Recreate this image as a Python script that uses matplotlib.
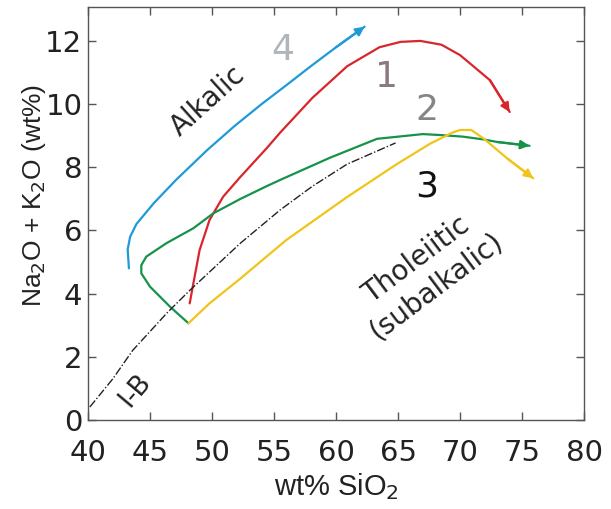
import matplotlib
matplotlib.use("Agg")
import matplotlib.pyplot as plt

# curve 4 (blue, alkalic)
x4 = [43.3, 43.2, 43.4, 43.9, 45.3, 47.1, 49.6, 51.8, 54.0, 56.0, 57.9, 60.0, 62.3]
y4 = [4.8, 5.4, 5.8, 6.2, 6.86, 7.6, 8.54, 9.3, 10.0, 10.6, 11.18, 11.8, 12.45]

# curve 1 (red)
x1 = [48.2, 48.5, 49.0, 49.8, 50.9, 52.3, 54.4, 55.5, 58.1, 60.9, 63.5, 65.2, 66.8, 68.5, 70.0, 72.4, 74.0]
y1 = [3.69, 4.33, 5.38, 6.33, 7.07, 7.7, 8.6, 9.1, 10.2, 11.2, 11.8, 11.97, 12.0, 11.88, 11.55, 10.76, 9.75]

# curve 2 (green)
x2 = [48.1, 46.6, 45.0, 44.3, 44.3, 44.7, 46.3, 48.5, 50.1, 52.3, 54.4, 55.5, 59.5, 63.3, 67.0, 68.4, 70.2, 71.9, 73.0, 75.6]
y2 = [3.06, 3.59, 4.22, 4.64, 4.9, 5.17, 5.59, 6.07, 6.54, 7.0, 7.4, 7.6, 8.3, 8.9, 9.05, 9.02, 8.97, 8.88, 8.8, 8.68]

# curve 3 (yellow)
x3 = [48.1, 49.8, 52.3, 56.0, 60.9, 64.9, 67.6, 69.4, 70.0, 70.9, 71.9, 73.8, 75.9]
y3 = [3.06, 3.69, 4.48, 5.7, 7.06, 8.1, 8.75, 9.1, 9.18, 9.18, 8.91, 8.28, 7.65]

# Irvine-Baragar divide
xib = [40.15, 42.0, 43.6, 46.4, 48.2, 52.3, 55.5, 58.1, 60.9, 64.8]
yib = [0.41, 1.3, 2.2, 3.4, 4.1, 5.6, 6.65, 7.4, 8.1, 8.77]

xticks = [40, 45, 50, 55, 60, 65, 70, 75, 80]
yticks = [0, 2, 4, 6, 8, 10, 12]

fig = plt.figure(figsize=(6.11, 5.09), dpi=100)
ax = fig.add_axes([0.144, 0.175, 0.812, 0.811])

curves = [(x4, y4, '#1f9ad8'), (x1, y1, '#d8262c'),
          (x2, y2, '#17924a'), (x3, y3, '#f0c419')]
for xs, ys, c in curves:
    ax.plot(xs, ys, color=c, lw=1.6, solid_capstyle='round', solid_joinstyle='round')
    ax.annotate('', xy=(xs[-1], ys[-1]), xytext=(xs[-2], ys[-2]),
                arrowprops=dict(arrowstyle='-|>', color=c, lw=1.6,
                                mutation_scale=13, shrinkA=0, shrinkB=0))

ax.plot(xib, yib, color='#222222', lw=1.0, linestyle=(0, (6, 1.5, 1, 1.5)))

ax.set_xlim(40, 80)
ax.set_ylim(0, 13.07)
ax.set_xticks(xticks)
ax.set_yticks(yticks)
ax.tick_params(direction='in', length=6, width=1, color='#555555',
               top=True, right=True, labelsize=21, labelcolor='#222222')
ax.tick_params(axis='x', pad=14)
ax.tick_params(axis='y', pad=4)
for s in ax.spines.values():
    s.set_color('#555555')
    s.set_linewidth(1.0)

ax.set_xlabel('wt% SiO$_2$', fontsize=21, family='Liberation Sans', color='#222222')
ax.set_ylabel('Na$_2$O + K$_2$O (wt%)', fontsize=19, family='Liberation Sans', color='#222222')
ax.xaxis.set_label_coords(0.5, -0.125)
ax.yaxis.set_label_coords(-0.08, 0.545)

ax.text(49.7, 10.1, 'Alkalic', rotation=42, fontsize=20, ha='center', va='center', color='#222222')
ax.text(67.3, 4.65, 'Tholeiitic\n(subalkalic)', rotation=37, fontsize=20, ha='center', va='center',
        color='#222222', linespacing=1.2)
ax.text(43.8, 0.95, 'I-B', rotation=50, fontsize=19, ha='center', va='center', color='#222222')

ax.text(55.7, 11.7, '4', fontsize=26, ha='center', va='center', color='#b0b5ba')
ax.text(64.1, 10.85, '1', fontsize=26, ha='center', va='center', color='#8a7a80')
ax.text(67.3, 9.8, '2', fontsize=26, ha='center', va='center', color='#858585')
ax.text(67.3, 7.4, '3', fontsize=26, ha='center', va='center', color='#111111')

fig.savefig('out.png', dpi=100)
